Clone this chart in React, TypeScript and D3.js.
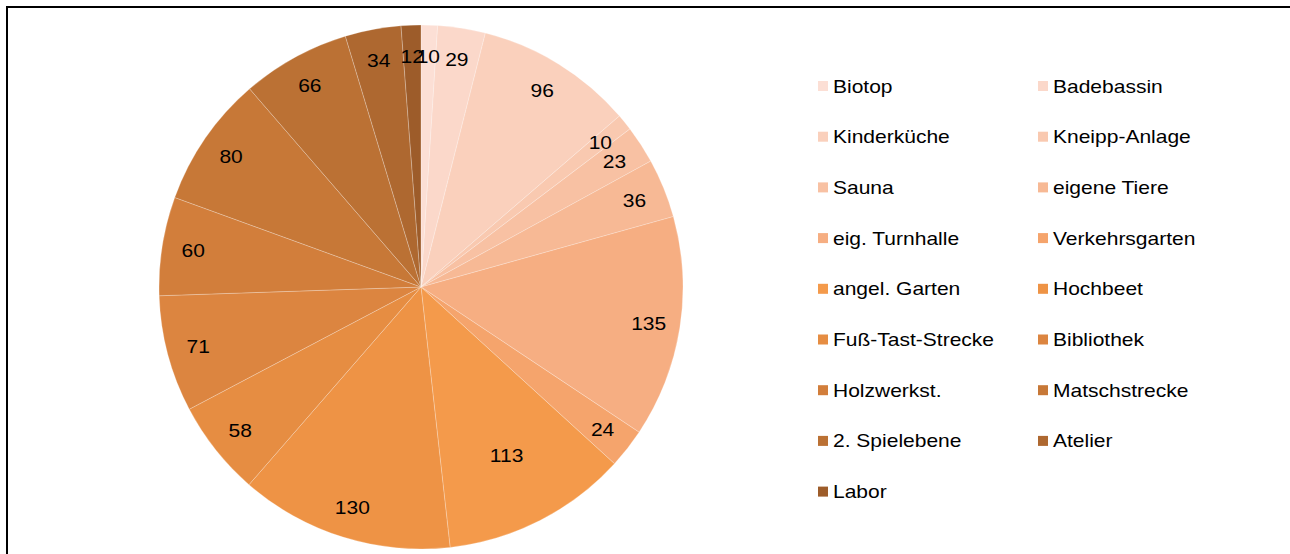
import React from "react";
import * as d3 from "d3";

const categories = [
  "Biotop", "Badebassin", "Kinderküche", "Kneipp-Anlage", "Sauna", "eigene Tiere",
  "eig. Turnhalle", "Verkehrsgarten", "angel. Garten", "Hochbeet", "Fuß-Tast-Strecke",
  "Bibliothek", "Holzwerkst.", "Matschstrecke", "2. Spielebene", "Atelier", "Labor",
];
const values = [10, 29, 96, 10, 23, 36, 135, 24, 113, 130, 58, 71, 60, 80, 66, 34, 12];
const colors = [
  "#FCDFD5", "#FBD8CA", "#FAD0BC", "#F9C9B0", "#F8C1A3", "#F7B995",
  "#F6AE82", "#F5A46C", "#F49A4B", "#EE9345", "#E68D42", "#DC8540",
  "#D27E3B", "#C77837", "#BB7134", "#AE6830", "#9D5C2A",
];

const W = 1290, H = 554;
const cx = 421, cy = 287, R = 262;
const FONT = "'Liberation Sans', Arial, sans-serif";
const FS = 18.6;
const SX = 1.13;

export default function App() {
  const data = categories.map((c, i) => ({ name: c, value: values[i], color: colors[i] }));
  const pie = d3.pie<any>().value((d) => d.value).sort(null);
  const arcs = pie(data);
  const arcGen = d3.arc<any>().innerRadius(0).outerRadius(R);

  const labelR = (name: string) => (name === "angel. Garten" ? 0.72 * R : 0.88 * R);

  const colX = [818, 1038];
  const rowY = d3.range(9).map((i) => 86 + i * 50.7);

  return (
    <svg width={W} height={H} style={{ position: "absolute", left: 0, top: 0, background: "#fff" }}>
      <rect x={0} y={0} width={W} height={H} fill="#fff" />
      <rect x={7} y={7} width={1400} height={700} fill="none" stroke="#000" strokeWidth={2} />
      <g transform={`translate(${cx},${cy})`}>
        {arcs.map((a, i) => (
          <path key={i} d={arcGen(a) as string} fill={a.data.color} stroke="#fff" strokeOpacity={0.3} strokeWidth={0.8} />
        ))}
        {arcs.map((a, i) => {
          const mid = (a.startAngle + a.endAngle) / 2;
          const r = labelR(a.data.name);
          const x = Math.sin(mid) * r;
          const y = -Math.cos(mid) * r;
          return (
            <text key={"l" + i} transform={`translate(${x},${y}) scale(${SX},1)`} textAnchor="middle" dominantBaseline="central"
              fontFamily={FONT} fontSize={FS} fill="#000">
              {a.data.value}
            </text>
          );
        })}
      </g>
      <g>
        {data.map((d, i) => {
          const col = i % 2;
          const row = Math.floor(i / 2);
          const x = colX[col];
          const y = rowY[row];
          return (
            <g key={"lg" + i}>
              <rect x={x} y={y - 5} width={10} height={10} fill={d.color} />
              <text transform={`translate(${x + 15},${y}) scale(${SX},1)`} dominantBaseline="central" fontFamily={FONT} fontSize={FS} fill="#000">
                {d.name}
              </text>
            </g>
          );
        })}
      </g>
    </svg>
  );
}
